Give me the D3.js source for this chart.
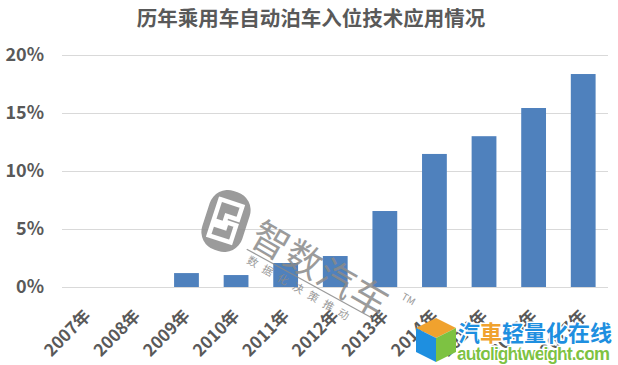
<!DOCTYPE html>
<html><head><meta charset="utf-8">
<script src="https://cdn.jsdelivr.net/npm/d3@7"></script>
<style>
html,body{margin:0;padding:0;background:#fff;}
svg{display:block;font-family:"Noto Sans CJK SC","Noto Sans",sans-serif;}
</style></head>
<body><svg id="c" width="618" height="365"></svg>
<script>
const title = "历年乘用车自动泊车入位技术应用情况";
const categories = ["2007年","2008年","2009年","2010年","2011年","2012年","2013年","2014年","2015年","2016年","2017年"];
const values = [0, 0, 0.012, 0.0103, 0.0207, 0.0267, 0.0655, 0.1147, 0.130, 0.1543, 0.1836];
const yTicks = [0, 0.05, 0.10, 0.15, 0.20];

// translate + rotate as a single matrix
function tr(tx, ty, deg) {
  const a = deg * Math.PI / 180, c = Math.cos(a), s = Math.sin(a);
  return `matrix(${c.toFixed(5)},${s.toFixed(5)},${(-s).toFixed(5)},${c.toFixed(5)},${tx},${ty})`;
}

const svg = d3.select("#c");
const x = d3.scaleBand().domain(categories).range([62.5, 608]).paddingInner(0.5).paddingOuter(0.25);
const y = d3.scaleLinear().domain([0, 0.20]).range([287, 55]);

// title
svg.append("text").attr("x", 311).attr("y", 26).attr("text-anchor","middle")
  .attr("font-size", 20.5).attr("font-weight","bold").attr("fill","#595959").text(title);

// gridlines
svg.append("g").selectAll("line").data(yTicks).join("line")
  .attr("x1", 62).attr("x2", 608).attr("y1", d=>Math.round(y(d))+0.5).attr("y2", d=>Math.round(y(d))+0.5)
  .attr("stroke","#d9d9d9").attr("stroke-width",1);

// y axis labels
const yAxis = d3.axisLeft(y).tickValues(yTicks).tickFormat(d3.format(".0%")).tickSize(0).tickPadding(0);
const ya = svg.append("g").attr("transform","translate(44,0)").call(yAxis);
ya.select(".domain").remove();
ya.selectAll("text").attr("font-size",18).attr("font-weight","bold").attr("fill","#595959")
  .attr("font-family","'Noto Sans CJK SC',sans-serif");

// bars
svg.append("g").selectAll("rect").data(values).join("rect")
  .attr("x",(d,i)=>x(categories[i])).attr("width",x.bandwidth())
  .attr("y",d=>y(d)).attr("height",d=>y(0)-y(d)).attr("fill","#4f81bd");

// x axis labels (rotated)
svg.append("g").selectAll("text").data(categories).join("text")
  .attr("transform", c => tr(x(c)+x.bandwidth()/2+4.5, 317, -45))
  .attr("text-anchor","end")
  .attr("font-size",17).attr("font-weight","bold").attr("fill","#595959")
  .text(c => c);

// watermark (智数汽车)
const wm = svg.append("g").attr("opacity",0.85);
const lg = wm.append("g").attr("transform", tr(226,221,18));
lg.append("rect").attr("x",-21).attr("y",-31).attr("width",42).attr("height",62).attr("rx",19).attr("fill","#8a8a8a");
lg.append("path").attr("d","M-12,-19 H11 V-5 H-1 V1 H11 V19 H-12 V7 H1 V3 H-12 Z").attr("fill","none").attr("stroke","#fff").attr("stroke-width",4.5);
const wt = wm.append("g").attr("transform", tr(248,243,30));
wt.append("text").attr("x",0).attr("y",0).attr("font-size",37).attr("font-weight",400).attr("fill","#8a8a8a")
  .attr("letter-spacing",1).text("智数汽车");
wt.append("line").attr("x1",2).attr("x2",145).attr("y1",6).attr("y2",3).attr("stroke","#8a8a8a").attr("stroke-width",1.2);
wt.append("text").attr("x",8).attr("y",18).attr("font-size",11).attr("fill","#8a8a8a").attr("letter-spacing",6.5).text("数据化决策推动");
wt.append("text").attr("x",160).attr("y",-28).attr("font-size",10).attr("fill","#8a8a8a").text("TM");

// bottom-right logo
const bl = svg.append("g");
bl.append("path").attr("d","M416,328 L436,318 L456,328 L436,338 Z").attr("fill","#f0a22e");
bl.append("path").attr("d","M416,328 L436,338 L436,362 L416,352 Z").attr("fill","#1e8fe0");
bl.append("path").attr("d","M456,328 L436,338 L436,362 L456,352 Z").attr("fill","#7dc242");
bl.append("text").attr("x",458).attr("y",341).attr("font-size",22).attr("font-weight","bold")
  .attr("stroke","#fff").attr("stroke-width",3).attr("paint-order","stroke")
  .selectAll("tspan").data([["汽","#1e8fe0"],["車","#f0a22e"],["轻量化在线","#1e8fe0"]]).join("tspan")
  .attr("fill",d=>d[1]).text(d=>d[0]);
bl.append("text").attr("x",457).attr("y",360).attr("font-size",18).attr("font-weight","bold")
  .attr("font-family","'Liberation Sans',Arial,sans-serif")
  .attr("stroke","#fff").attr("stroke-width",3).attr("paint-order","stroke")
  .attr("fill","#7dc242").attr("textLength",153).text("autolightweight.com");
</script></body></html>
